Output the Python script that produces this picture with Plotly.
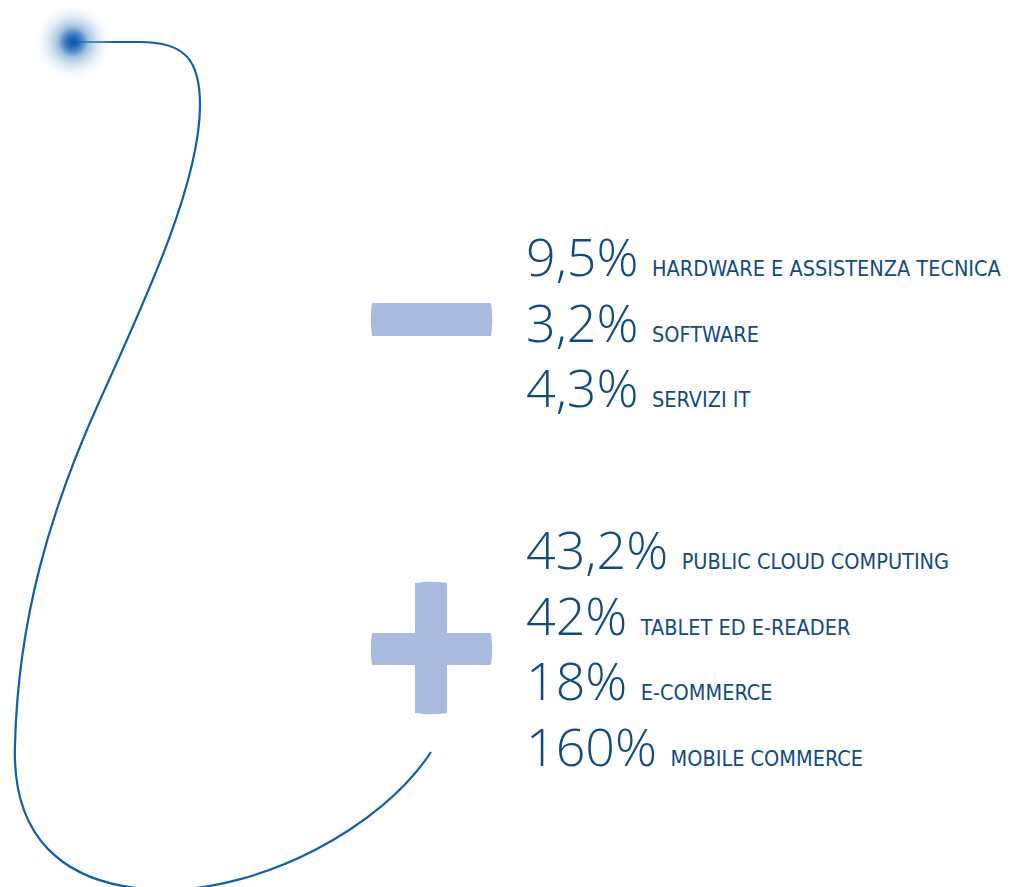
import plotly.graph_objects as go

# ---- data ----
decline_values = ["9,5%", "3,2%", "4,3%"]
decline_labels = ["HARDWARE E ASSISTENZA TECNICA", "SOFTWARE", "SERVIZI IT"]
growth_values = ["43,2%", "42%", "18%", "160%"]
growth_labels = ["PUBLIC CLOUD COMPUTING", "TABLET ED E-READER", "E-COMMERCE", "MOBILE COMMERCE"]

# ---- style ----
W, H = 1015, 887
BODY = 8  # default page margin of the html body
TEXT_COLOR = "#0f4a85"
LINE_COLOR = "#0f5fab"
SIGN_COLOR = "#a9bcdf"
NUM_FONT = "Open Sans"
LBL_FONT = "Liberation Sans Narrow, DejaVu Sans Condensed, Open Sans"
NUM_SIZE = 52
LBL_SIZE = 21.5
TEXT_X = 524
ROW_GAP = 65.5
BASE_OFFSET = 15      # distance from annotation bottom to text baseline
decline_base = 278    # baseline of first decline row
growth_base = 571     # baseline of first growth row

fig = go.Figure()

# glow dot at the start of the line
fig.add_trace(go.Scatter(
    x=[73], y=[42], mode="markers", hoverinfo="skip", showlegend=False,
    marker=dict(size=80, color="rgba(255,255,255,0)", line=dict(width=0),
                gradient=dict(type="radial", color="#0b5cb0")),
))
fig.add_trace(go.Scatter(
    x=[73], y=[42], mode="markers", hoverinfo="skip", showlegend=False,
    marker=dict(size=30, color="rgba(30,100,185,0)", line=dict(width=0),
                gradient=dict(type="radial", color="rgba(10,90,175,0.9)")),
))

shapes = []
# decorative curve
curve = ("M 73 42 L 140 42 C 185 42 200 60 200 105 "
         "C 200 180 150 290 100 400 "
         "C 50 510 18 620 15 745 "
         "C 12 830 55 888 165 890 "
         "C 260 890 380 830 431 752")
shapes.append(dict(type="path", path=curve, xref="x", yref="y",
                   line=dict(color=LINE_COLOR, width=2.2), layer="below"))

def bar_path(x0, x1, y0, y1, horizontal=True, b=2.5):
    if horizontal:
        ym = (y0 + y1) / 2
        return (f"M {x0} {y0} L {x1} {y0} Q {x1 + b} {ym} {x1} {y1} "
                f"L {x0} {y1} Q {x0 - b} {ym} {x0} {y0} Z")
    xm = (x0 + x1) / 2
    return (f"M {x0} {y0} Q {xm} {y0 - b} {x1} {y0} L {x1} {y1} "
            f"Q {xm} {y1 + b} {x0} {y1} L {x0} {y0} Z")

# minus sign
shapes.append(dict(type="path", path=bar_path(372, 491, 303, 336), xref="x", yref="y",
                   fillcolor=SIGN_COLOR, line=dict(width=0)))
# plus sign
shapes.append(dict(type="path", path=bar_path(372, 491, 633, 665), xref="x", yref="y",
                   fillcolor=SIGN_COLOR, line=dict(width=0)))
shapes.append(dict(type="path", path=bar_path(415, 447, 583, 713, horizontal=False), xref="x", yref="y",
                   fillcolor=SIGN_COLOR, line=dict(width=0)))

annotations = []
def add_rows(values, labels, base):
    for i, (v, l) in enumerate(zip(values, labels)):
        txt = (f"<span style='font-size:{NUM_SIZE}px;font-family:{NUM_FONT};font-weight:300'>{v} </span>"
               f"<span style='font-size:{LBL_SIZE}px;font-family:{LBL_FONT}'>{l}</span>")
        annotations.append(dict(
            x=TEXT_X, y=base + i * ROW_GAP + BASE_OFFSET, xref="x", yref="y",
            text=txt, showarrow=False, xanchor="left", yanchor="bottom",
            font=dict(color=TEXT_COLOR, family=NUM_FONT, size=NUM_SIZE, weight=300),
        ))

add_rows(decline_values, decline_labels, decline_base)
add_rows(growth_values, growth_labels, growth_base)

fig.update_layout(
    width=W - BODY, height=H - BODY, margin=dict(l=0, r=0, t=0, b=0),
    paper_bgcolor="white", plot_bgcolor="white",
    xaxis=dict(range=[BODY, W], visible=False, fixedrange=True),
    yaxis=dict(range=[H, BODY], visible=False, fixedrange=True),
    shapes=shapes, annotations=annotations, showlegend=False,
)

fig.write_html("out.html")
